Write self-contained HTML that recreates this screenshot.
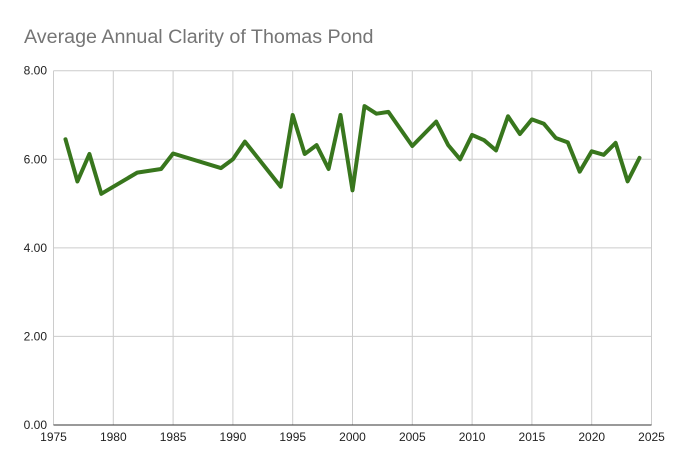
<!DOCTYPE html>
<html><head><meta charset="utf-8"><style>
body{margin:0;background:#fff;}
svg{display:block;font-family:"Liberation Sans",Arial,sans-serif;}
</style></head><body>
<svg id="chart" width="675" height="471" viewBox="0 0 675 471">
<rect width="675" height="471" fill="#fff"/>
<text x="24" y="43" font-size="19.7" fill="#757575">Average Annual Clarity of Thomas Pond</text>
<g id="grid"></g><g id="axes"></g><g id="series"></g>
</svg>
<script>
const years=[1976,1977,1978,1979,1982,1984,1985,1989,1990,1991,1994,1995,1996,1997,1998,1999,2000,2001,2002,2003,2005,2007,2008,2009,2010,2011,2012,2013,2014,2015,2016,2017,2018,2019,2020,2021,2022,2023,2024];
const clarity=[6.45,5.5,6.12,5.22,5.7,5.78,6.13,5.8,6.0,6.4,5.38,7.0,6.12,6.32,5.78,7.0,5.3,7.2,7.03,7.07,6.3,6.85,6.32,6.0,6.55,6.43,6.2,6.97,6.57,6.9,6.8,6.48,6.38,5.72,6.18,6.1,6.37,5.5,6.03];
const xTicks=[1975,1980,1985,1990,1995,2000,2005,2010,2015,2020,2025];
const yTicks=[0,2,4,6,8];
const X0=53.5,X1=651.5,Y0=425,Y1=70.7;
const xs=v=>X0+(v-1975)/50*(X1-X0);
const ys=v=>Y0-(v/8)*(Y0-Y1);
const NS="http://www.w3.org/2000/svg";
const grid=document.getElementById('grid'),axes=document.getElementById('axes'),ser=document.getElementById('series');
function mk(tag,attrs,parent){const e=document.createElementNS(NS,tag);for(const k in attrs)e.setAttribute(k,attrs[k]);parent.appendChild(e);return e;}
yTicks.forEach(t=>{
  if(t>0){const l=mk('line',{x1:X0,x2:X1,y1:ys(t),y2:ys(t),stroke:'#cccccc','stroke-width':1},grid);
  
  }
  const tx=mk('text',{x:47,y:ys(t)+4,'text-anchor':'end','font-size':12,fill:'#222'},axes);
  tx.textContent=t.toFixed(2);
  
  
});
xTicks.forEach(t=>{
  const l=mk('line',{x1:xs(t),x2:xs(t),y1:Y1,y2:Y0,stroke:'#cccccc','stroke-width':1},grid);
  
  
  const tx=mk('text',{x:xs(t),y:441,'text-anchor':'middle','font-size':12,fill:'#222'},axes);
  tx.textContent=t;
  
  
});
const base=mk('line',{x1:X0,x2:X1,y1:Y0,y2:Y0,stroke:'#333','stroke-width':1},axes);


const pts=years.map((y,i)=>xs(y).toFixed(1)+','+ys(clarity[i]).toFixed(1)).join(' ');
const pl=mk('polyline',{points:pts,fill:'none',stroke:'#38761d','stroke-width':4,'stroke-linejoin':'round','stroke-linecap':'round'},ser);


</script>
</body></html>
